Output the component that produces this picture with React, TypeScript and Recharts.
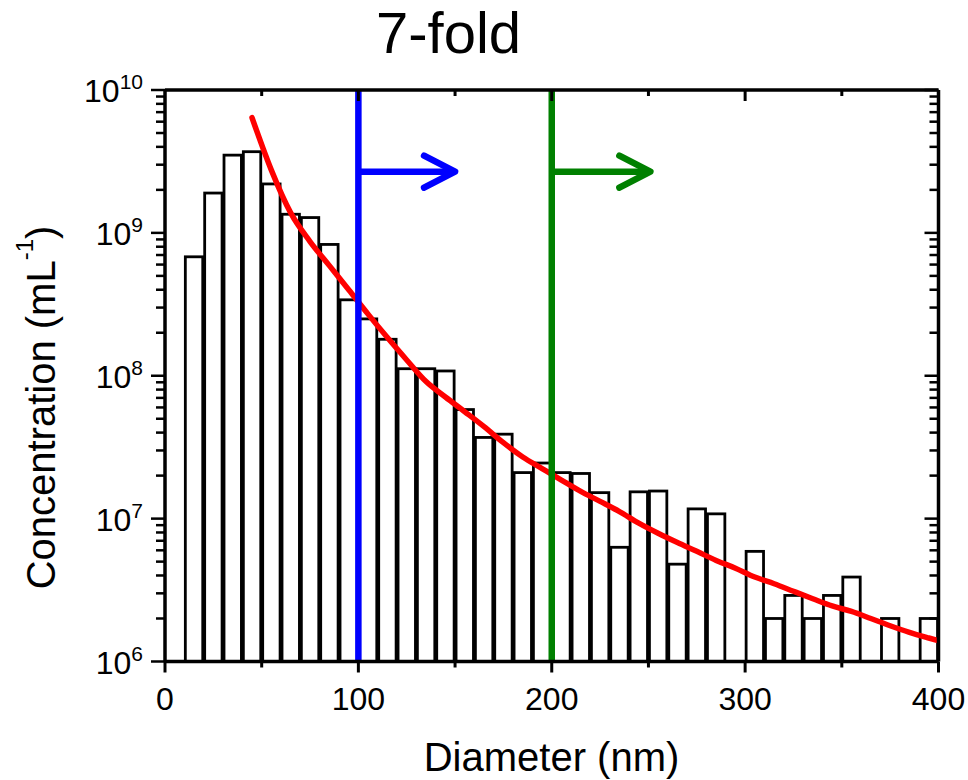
import { Bar, ComposedChart, Line, ReferenceLine, XAxis, YAxis } from "recharts";

// bin centres (nm); the last row only carries the fit past the right edge (clipped)
const diameters = [
  5, 15, 25, 35, 45, 55, 65, 75, 85, 95,
  105, 115, 125, 135, 145, 155, 165, 175, 185, 195,
  205, 215, 225, 235, 245, 255, 265, 275, 285, 295,
  305, 315, 325, 335, 345, 355, 365, 375, 385, 395, 405,
];

// histogram concentration (mL^-1), null = empty bin
const counts = [
  null, 6.8e8, 1.9e9, 3.5e9, 3.7e9, 2.2e9, 1.35e9, 1.28e9, 8.3e8, 3.4e8,
  2.5e8, 1.8e8, 1.12e8, 1.12e8, 1.08e8, 5.8e7, 3.7e7, 3.9e7, 2.1e7, 2.45e7,
  2.1e7, 2.07e7, 1.52e7, 6.3e6, 1.54e7, 1.56e7, 4.8e6, 1.17e7, 1.08e7, null,
  5.9e6, 2.0e6, 2.9e6, 2.0e6, 2.9e6, 3.9e6, null, 2.0e6, null, 2.0e6, null,
];

// red fit curve
const fit = [
  null, null, null, null, 6.4e9, 2.75e9, 1.38e9, 8.7e8, 5.9e8, 4.0e8,
  2.7e8, 1.85e8, 1.29e8, 9.1e7, 7.1e7, 5.6e7, 4.4e7, 3.4e7, 2.7e7, 2.24e7,
  1.86e7, 1.55e7, 1.32e7, 1.12e7, 9.3e6, 7.9e6, 6.8e6, 5.9e6, 5.1e6, 4.5e6,
  3.9e6, 3.5e6, 3.1e6, 2.75e6, 2.45e6, 2.24e6, 2.0e6, 1.78e6, 1.6e6, 1.46e6, 1.34e6,
];

const xTicks = [0, 50, 100, 150, 200, 250, 300, 350, 400];
const xLabels = [0, 100, 200, 300, 400];
const yTicks = [
  1e6, 2e6, 3e6, 4e6, 5e6, 6e6, 7e6, 8e6, 9e6,
  1e7, 2e7, 3e7, 4e7, 5e7, 6e7, 7e7, 8e7, 9e7,
  1e8, 2e8, 3e8, 4e8, 5e8, 6e8, 7e8, 8e8, 9e8,
  1e9, 2e9, 3e9, 4e9, 5e9, 6e9, 7e9, 8e9, 9e9,
  1e10,
];
const yDomain = [1e6, 1e10];

const cutoffs = [100, 200];
const arrowEnds = [150, 251];
const arrowLevel = 2.68e9;
const cutoffColors = ["#0000ff", "#008000"];

const rows = diameters.map((d, i) => ({ d, count: counts[i], fit: fit[i] }));

const isDecade = (v: number) => {
  const e = Math.round(Math.log10(v));
  return Math.abs(v - Math.pow(10, e)) < v * 1e-6;
};

function HistBar(props: any) {
  const { x, y, width, height, payload } = props;
  if (payload.count == null || !isFinite(y) || !isFinite(height)) return <g />;
  return <rect x={x} y={y} width={width} height={height} fill="#fff" stroke="#000" strokeWidth={2.8} />;
}

function BottomTick({ x, y, payload }: any) {
  const major = xLabels.includes(payload.value);
  return (
    <g>
      <line x1={x} x2={x} y1={y} y2={y + (major ? 11 : 6)} stroke="#000" strokeWidth={3} />
      {major && (
        <text x={x} y={y + 48} textAnchor="middle" fontSize={32} fill="#000">
          {payload.value}
        </text>
      )}
    </g>
  );
}

function TopTick({ x, y, payload }: any) {
  const major = xLabels.includes(payload.value);
  return <line x1={x} x2={x} y1={y} y2={y + (major ? 11 : 6)} stroke="#000" strokeWidth={3} />;
}

function LeftTick({ x, y, payload }: any) {
  const v = payload.value;
  const major = isDecade(v);
  return (
    <g>
      <line x1={x - (major ? 14 : 9)} x2={x} y1={y} y2={y} stroke="#000" strokeWidth={2.5} />
      {major && (
        <text x={x - 22} y={y + 12} textAnchor="end" fontSize={32} fill="#000">
          10
          <tspan dy={-13} fontSize={21}>
            {Math.round(Math.log10(v))}
          </tspan>
        </text>
      )}
    </g>
  );
}

function RightTick({ x, y, payload }: any) {
  const major = isDecade(payload.value);
  return <line x1={x - (major ? 14 : 9)} x2={x} y1={y} y2={y} stroke="#000" strokeWidth={2.5} />;
}

const arrowShape = (color: string) => (p: any) => {
  const { x1, y1, x2, y2 } = p;
  return (
    <g stroke={color} strokeWidth={6.5} fill="none" strokeLinecap="round" strokeLinejoin="round">
      <line x1={x1} y1={y1} x2={x2} y2={y2} strokeLinecap="butt" />
      <polyline points={`${x2 - 31},${y2 - 16} ${x2},${y2} ${x2 - 31},${y2 + 16}`} />
    </g>
  );
};

export default function App() {
  return (
    // pinned to the viewport corner so the svg covers the whole 968x780 picture
    <div
      style={{
        position: "fixed",
        left: 0,
        top: 0,
        width: 968,
        height: 780,
        background: "#fff",
        fontFamily: "'Liberation Sans', Arial, sans-serif",
      }}
    >
      <ComposedChart
        width={968}
        height={780}
        data={rows}
        margin={{ top: 89, right: 28.5, bottom: 0, left: 18 }}
      >
        <XAxis
          dataKey="d"
          type="number"
          domain={[0, 400]}
          allowDataOverflow
          ticks={xTicks}
          interval={0}
          height={118.5}
          tickSize={0}
          tickMargin={0}
          tickLine={false}
          tick={<BottomTick />}
          axisLine={{ stroke: "#000", strokeWidth: 3.5 }}
          label={{
            content: () => (
              <text x={551.5} y={771} textAnchor="middle" fontSize={40} fill="#000">
                Diameter (nm)
              </text>
            ),
          }}
        />
        <XAxis
          xAxisId="top"
          dataKey="d"
          orientation="top"
          type="number"
          domain={[0, 400]}
          allowDataOverflow
          ticks={xTicks.slice(1, -1)}
          interval={0}
          height={1}
          tickSize={0}
          tickMargin={0}
          tickLine={false}
          tick={<TopTick />}
          axisLine={{ stroke: "#000", strokeWidth: 3.5 }}
          label={{
            content: () => (
              <text x={448.5} y={53} textAnchor="middle" fontSize={58} fill="#000">
                7-fold
              </text>
            ),
          }}
        />
        <YAxis
          type="number"
          scale="log"
          domain={yDomain}
          allowDataOverflow
          ticks={yTicks}
          interval={0}
          width={147}
          tickSize={0}
          tickMargin={0}
          tickLine={false}
          tick={<LeftTick />}
          axisLine={{ stroke: "#000", strokeWidth: 3.5 }}
          label={{
            content: () => (
              <text
                x={55}
                y={407.5}
                transform="rotate(-90 55 407.5)"
                textAnchor="middle"
                fontSize={40}
                fill="#000"
              >
                Concentration (mL
                <tspan dy={-22} fontSize={24}>
                  -1
                </tspan>
                <tspan dy={22}>)</tspan>
              </text>
            ),
          }}
        />
        <YAxis
          yAxisId="r"
          orientation="right"
          type="number"
          scale="log"
          domain={yDomain}
          allowDataOverflow
          ticks={yTicks}
          interval={0}
          width={1}
          tickSize={0}
          tickMargin={0}
          tickLine={false}
          tick={<RightTick />}
          axisLine={{ stroke: "#000", strokeWidth: 3.5 }}
        />
        <Bar dataKey="count" barSize={19.34} shape={HistBar} isAnimationActive={false} />
        {/* invisible copy so the frame axes (top / right) have a series */}
        <Line
          xAxisId="top"
          yAxisId="r"
          dataKey="fit"
          stroke="none"
          dot={false}
          activeDot={false}
          isAnimationActive={false}
        />
        <Line
          dataKey="fit"
          type="monotone"
          stroke="#ff0000"
          strokeWidth={5.5}
          strokeLinecap="round"
          dot={false}
          activeDot={false}
          isAnimationActive={false}
        />
        {cutoffs.map((c, i) => (
          <ReferenceLine key={`v${c}`} x={c} stroke={cutoffColors[i]} strokeWidth={6.5} />
        ))}
        {cutoffs.map((c, i) => (
          <ReferenceLine
            key={`a${c}`}
            segment={[
              { x: c, y: arrowLevel },
              { x: arrowEnds[i], y: arrowLevel },
            ]}
            shape={arrowShape(cutoffColors[i])}
          />
        ))}
      </ComposedChart>
    </div>
  );
}
